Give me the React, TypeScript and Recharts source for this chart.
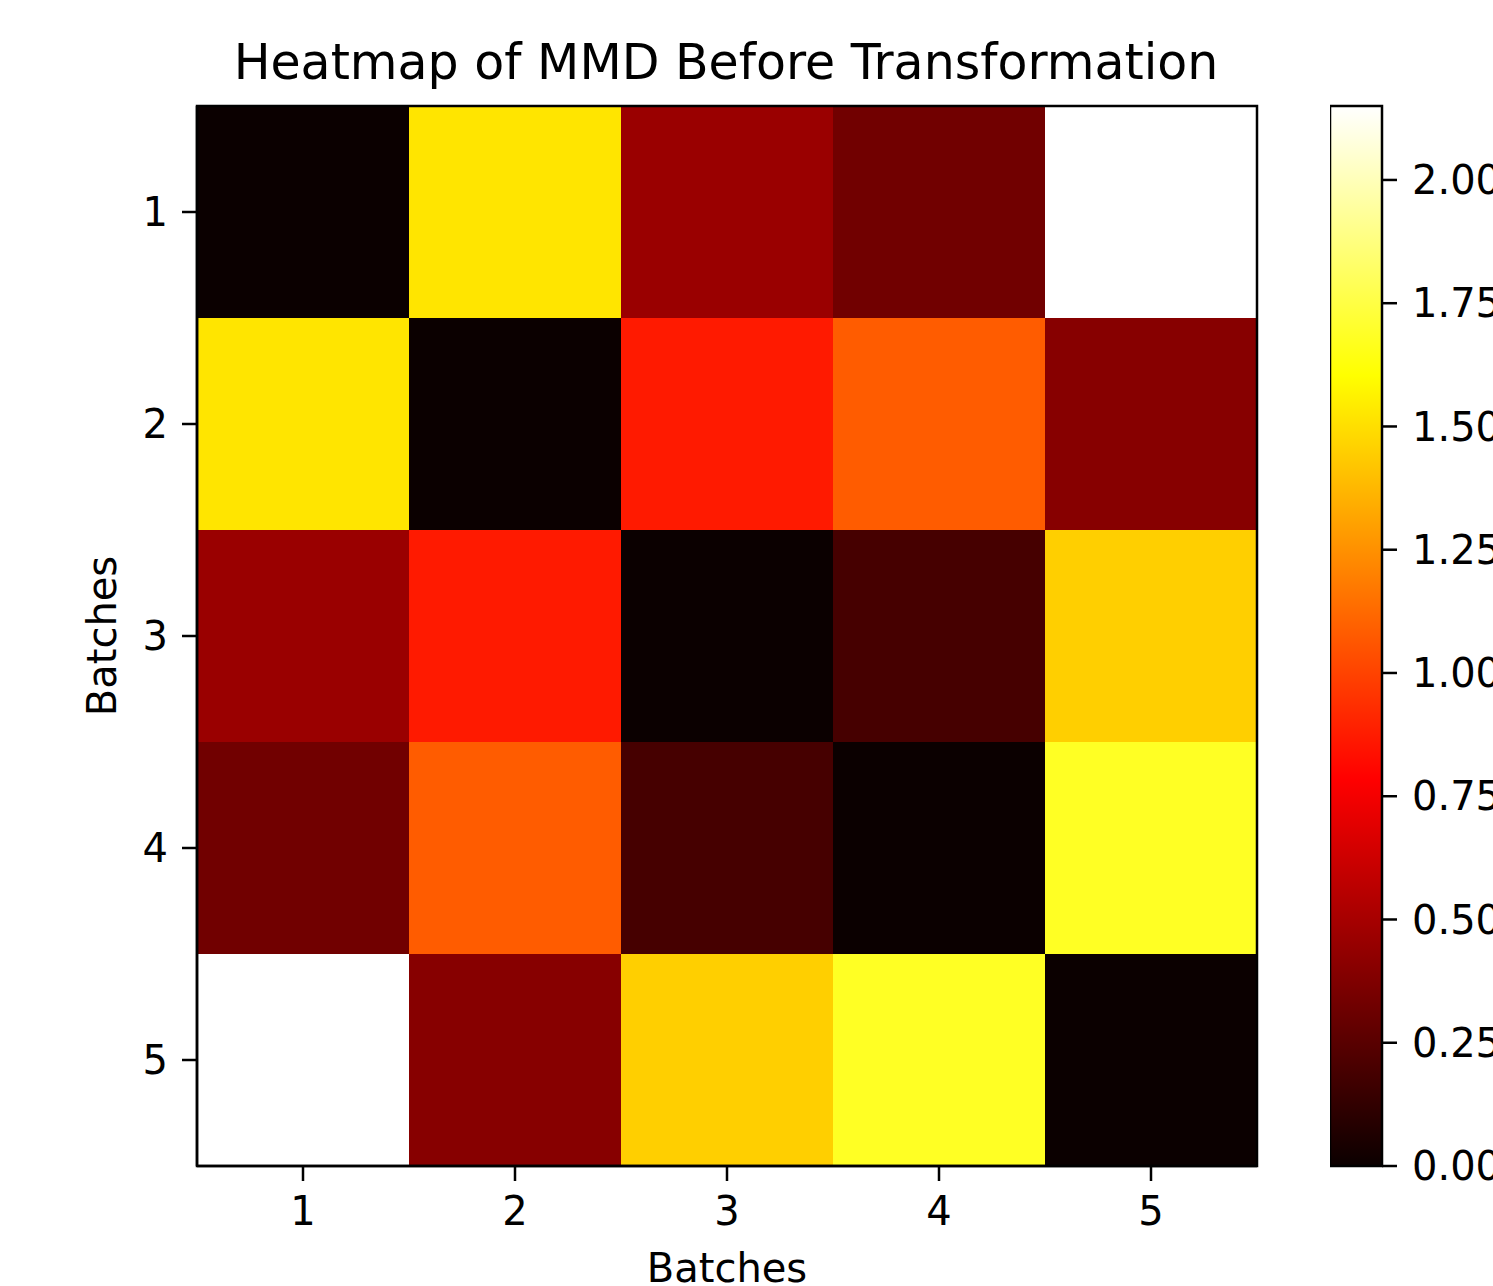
import React from "react";
import {
  ComposedChart,
  XAxis,
  YAxis,
  ReferenceArea,
  Label,
} from "recharts";

// ---- data ----
const batches = [1, 2, 3, 4, 5];
const mmdRow1 = [0.0, 1.52, 0.46, 0.33, 2.15];
const mmdRow2 = [1.52, 0.0, 0.87, 1.08, 0.4];
const mmdRow3 = [0.46, 0.87, 0.0, 0.19, 1.45];
const mmdRow4 = [0.33, 1.08, 0.19, 0.0, 1.68];
const mmdRow5 = [2.15, 0.4, 1.45, 1.68, 0.0];
const mmdRows = [mmdRow1, mmdRow2, mmdRow3, mmdRow4, mmdRow5];
const colorbarTicks = [0, 0.25, 0.5, 0.75, 1.0, 1.25, 1.5, 1.75, 2.0];
const VMIN = 0;
const VMAX = 2.15;
const title = "Heatmap of MMD Before Transformation";
const axisName = "Batches";

// matplotlib "hot" colormap
function hot(v: number): string {
  const x = Math.max(0, Math.min(1, (v - VMIN) / (VMAX - VMIN)));
  const r = x < 0.365079 ? 0.0416 + (1 - 0.0416) * (x / 0.365079) : 1;
  const g = x < 0.365079 ? 0 : x < 0.746032 ? (x - 0.365079) / (0.746032 - 0.365079) : 1;
  const b = x < 0.746032 ? 0 : (x - 0.746032) / (1 - 0.746032);
  const h = (c: number) => Math.round(c * 255);
  return `rgb(${h(r)},${h(g)},${h(b)})`;
}

const cells = mmdRows.flatMap((row, ri) =>
  row.map((v, ci) => ({ row: batches[ri], col: batches[ci], value: v }))
);

const FONT = "DejaVu Sans, Verdana, sans-serif";
const tickStyle = { fontSize: 40, fill: "#000", fontFamily: FONT };
const lineStyle = { stroke: "#000", strokeWidth: 2.5 };

export default function App() {
  return (
    <div
      style={{
        position: "fixed",
        left: 0,
        top: 0,
        width: 1493,
        height: 1286,
        overflow: "hidden",
        background: "#fff",
      }}
    >
      <svg
        width={1493}
        height={110}
        style={{ position: "absolute", left: 0, top: 0 }}
      >
        <text
          x={726}
          y={79}
          textAnchor="middle"
          fontSize={49}
          fontFamily={FONT}
          fill="#000"
        >
          {title}
        </text>
      </svg>

      <div style={{ position: "absolute", left: 0, top: 0 }}>
        <ComposedChart
          width={1270}
          height={1286}
          data={cells}
          margin={{ top: 106, right: 13, bottom: 0, left: 7 }}
        >
          <XAxis
            type="number"
            dataKey="col"
            domain={[0.5, 5.5]}
            ticks={batches}
            allowDataOverflow
            height={120}
            tick={tickStyle}
            tickSize={15}
            tickMargin={16}
            axisLine={lineStyle}
            tickLine={lineStyle}
          >
            <Label
              value={axisName}
              position="insideBottom"
              offset={4}
              style={{ fontSize: 40, fill: "#000", fontFamily: FONT }}
            />
          </XAxis>
          <YAxis
            type="number"
            dataKey="row"
            domain={[0.5, 5.5]}
            ticks={batches}
            reversed
            allowDataOverflow
            width={190}
            tick={tickStyle}
            tickSize={15}
            tickMargin={14}
            axisLine={lineStyle}
            tickLine={lineStyle}
          >
            <Label
              value={axisName}
              position="center"
              angle={-90}
              style={{ fontSize: 40, fill: "#000", fontFamily: FONT, textAnchor: "middle" }}
            />
          </YAxis>
          {cells.map((c) => (
            <ReferenceArea
              key={`${c.row}-${c.col}`}
              x1={c.col - 0.5}
              x2={c.col + 0.5}
              y1={c.row - 0.5}
              y2={c.row + 0.5}
              fill={hot(c.value)}
              fillOpacity={1}
              stroke="none"
              ifOverflow="visible"
            />
          ))}
          <ReferenceArea
            x1={0.5}
            x2={5.5}
            y1={0.5}
            y2={5.5}
            fill="none"
            stroke="#000"
            strokeWidth={2.5}
            ifOverflow="visible"
          />
        </ComposedChart>
      </div>

      <div style={{ position: "absolute", left: 1330, top: 0 }}>
        <ComposedChart
          width={163}
          height={1286}
          data={[{ x: 0, y: 0 }]}
          margin={{ top: 106, right: 0, bottom: 120, left: 0 }}
        >
          <defs>
            <linearGradient id="hotGrad" x1="0" y1="1" x2="0" y2="0">
              <stop offset="0" stopColor={hot(VMIN)} />
              <stop offset="0.365079" stopColor={hot(VMIN + 0.365079 * (VMAX - VMIN))} />
              <stop offset="0.746032" stopColor={hot(VMIN + 0.746032 * (VMAX - VMIN))} />
              <stop offset="1" stopColor={hot(VMAX)} />
            </linearGradient>
          </defs>
          <XAxis type="number" dataKey="x" domain={[0, 1]} hide />
          <YAxis
            type="number"
            dataKey="y"
            orientation="right"
            domain={[VMIN, VMAX]}
            ticks={colorbarTicks}
            allowDataOverflow
            interval={0}
            width={111}
            tickFormatter={(v: number) => v.toFixed(2)}
            tick={{ ...tickStyle, textAnchor: "start" }}
            tickSize={15}
            tickMargin={15}
            axisLine={false}
            tickLine={lineStyle}
          />
          <ReferenceArea
            x1={0}
            x2={1}
            y1={VMIN}
            y2={VMAX}
            fill="url(#hotGrad)"
            fillOpacity={1}
            stroke="#000"
            strokeWidth={2.5}
            ifOverflow="visible"
          />
        </ComposedChart>
      </div>
    </div>
  );
}
